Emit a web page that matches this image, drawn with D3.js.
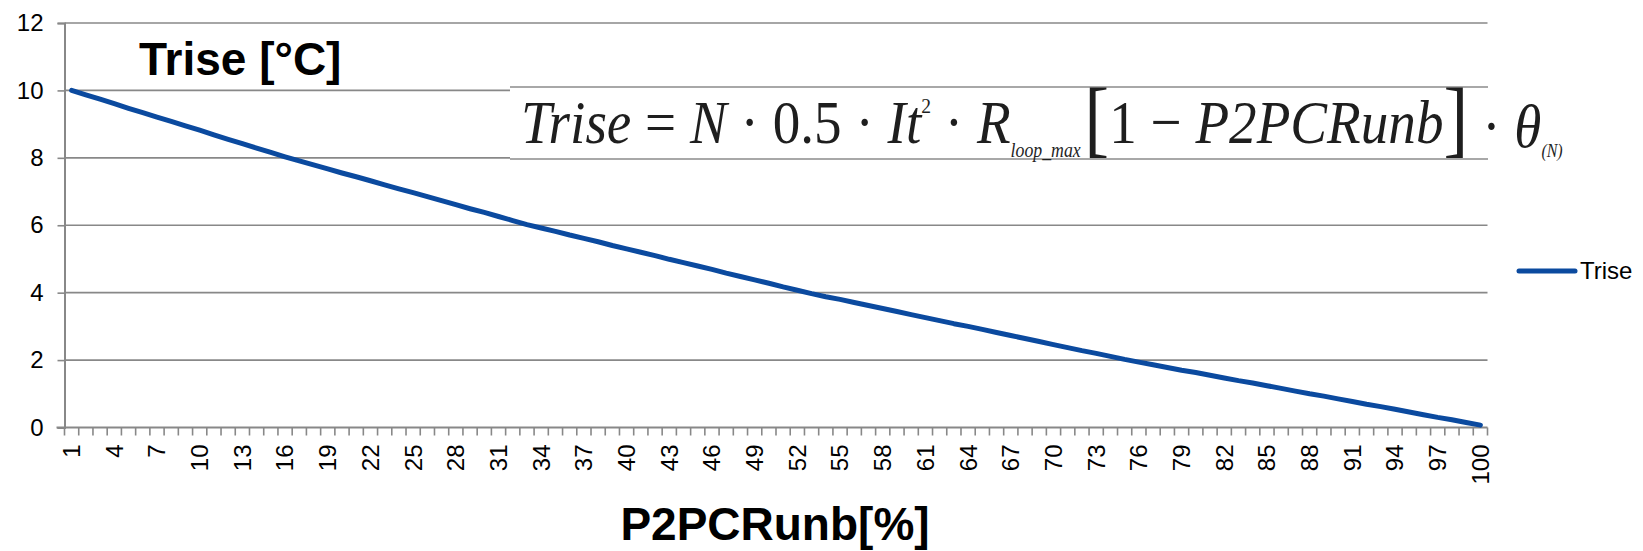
<!DOCTYPE html>
<html>
<head>
<meta charset="utf-8">
<title>Trise</title>
<script src="https://cdn.jsdelivr.net/npm/d3@7"></script>
<style>
  body { margin:0; background:#fff; font-family:"Liberation Sans", Arial, sans-serif; }
  svg text { fill:#000; }
</style>
</head>
<body>
<script>
// P2PCRunb [%] categories on the x axis
var categories = d3.range(1, 101);

// Trise [°C]
var trise = [
  10.00, 9.87, 9.74, 9.61, 9.47, 9.34, 9.21, 9.08, 8.95, 8.82,
  8.68, 8.55, 8.42, 8.29, 8.16, 8.03, 7.91, 7.79, 7.67, 7.55,
  7.44, 7.32, 7.20, 7.08, 6.97, 6.85, 6.73, 6.61, 6.49, 6.38,
  6.26, 6.14, 6.02, 5.92, 5.82, 5.71, 5.61, 5.51, 5.40, 5.30,
  5.20, 5.10, 4.99, 4.89, 4.79, 4.69, 4.58, 4.48, 4.38, 4.28,
  4.17, 4.07, 3.97, 3.88, 3.80, 3.71, 3.62, 3.53, 3.44, 3.35,
  3.26, 3.17, 3.08, 3.00, 2.91, 2.82, 2.73, 2.64, 2.55, 2.46,
  2.37, 2.28, 2.20, 2.11, 2.02, 1.94, 1.86, 1.78, 1.70, 1.63,
  1.55, 1.47, 1.39, 1.32, 1.24, 1.16, 1.08, 1.00, 0.93, 0.85,
  0.77, 0.69, 0.62, 0.54, 0.46, 0.38, 0.30, 0.23, 0.15, 0.07
];

var yTicks = [0, 2, 4, 6, 8, 10, 12];
var xTickLabels = categories.filter(function(c){ return (c - 1) % 3 === 0; });

var seriesName = "Trise",
    yTitle = "Trise [\u00B0C]",
    xTitle = "P2PCRunb[%]";

function chart(){
  var width = 1643,
      height = 551,
      grey = "#888888",
      blue = "#0b4a9f";

  var svg = d3.select("body").append("svg")
      .attr("width", width)
      .attr("height", height);

  var x = d3.scaleBand()
      .domain(categories)
      .range([64.5, 1487.5])
      .padding(0);

  var y = d3.scaleLinear()
      .domain([0, 12])
      .range([427.5, 23]);

  // gridlines
  svg.append("g").selectAll("line")
      .data(yTicks.filter(function(d){ return d > 0; }))
    .enter().append("line")
      .attr("x1", x.range()[0])
      .attr("x2", x.range()[1])
      .attr("y1", function(d){ return y(d); })
      .attr("y2", function(d){ return y(d); })
      .style("stroke", grey)
      .style("stroke-width", 1.6);

  // formula picture, white box over the grid
  var fbox = svg.append("g").attr("class", "formula");
  fbox.append("rect")
      .attr("x", 510).attr("y", 86)
      .attr("width", 1055).attr("height", 74)
      .style("fill", "#fff");
  fbox.selectAll(".fline")
      .data([87, 159])
    .enter().append("line")
      .attr("class", "fline")
      .attr("x1", 510).attr("x2", 1488)
      .attr("y1", function(d){ return d; })
      .attr("y2", function(d){ return d; })
      .style("stroke", "#a8a8a8")
      .style("stroke-width", 2);

  var ftext = fbox.append("text")
      .attr("x", 0)
      .attr("y", 0)
      .style("font-family", "'Liberation Serif', 'Times New Roman', serif")
      .style("font-size", "62px")
      .style("fill", "#1e1e1e");

  function part(t, italic, opts){
    opts = opts || {};
    var s = ftext.append("tspan").text(t)
      .style("font-style", italic ? "italic" : "normal");
    if(opts.size) s.style("font-size", opts.size);
    if(opts.dy) s.attr("dy", opts.dy);
    if(opts.dx) s.attr("dx", opts.dx);
    return s;
  }
  part("Trise", true);
  part(" = ", false);
  part("N", true);
  part(" \u00B7 0.5 \u00B7 ", false);
  part("It", true);
  part("2", false, {size:"22px", dy:-30});
  part(" \u00B7 ", false, {dy:30});
  part("R", true);
  part("loop_max", true, {size:"20px", dy:14});
  part("[", false, {size:"84px", dy:-10, dx:4});
  part("1 \u2212 ", false, {dy:-4});
  part("P2PCRunb", true);
  part("]", false, {size:"84px", dy:4});
  part(" \u00B7 ", false, {dy:0});
  part("\u03B8", true);
  part("(N)", true, {size:"18px", dy:10});

  var bb = ftext.node().getBBox();
  var fitW = 1042;
  ftext.attr("transform", "translate(521,143)scale(" + (fitW / bb.width) + ",1)");

  // y axis
  var yAxis = d3.axisLeft(y)
      .tickValues(yTicks)
      .tickSize(7)
      .tickPadding(14);

  var gy = svg.append("g")
      .attr("transform", "translate(" + x.range()[0] + ",0)")
      .call(yAxis);
  gy.select(".domain").style("stroke", grey).style("stroke-width", 2);
  gy.selectAll(".tick line").style("stroke", grey).style("stroke-width", 1.6);
  gy.selectAll(".tick text")
      .style("font-size", "24px")
      .style("font-family", "'Liberation Sans', Arial, sans-serif")
      .style("fill", "#000");

  // x axis line and tick marks between categories
  var gx = svg.append("g");
  gx.append("line")
      .attr("x1", x.range()[0] - 8)
      .attr("x2", x.range()[1])
      .attr("y1", y(0)).attr("y2", y(0))
      .style("stroke", grey)
      .style("stroke-width", 2);

  var edges = categories.map(function(c){ return x(c); }).concat([x.range()[1]]);
  gx.selectAll(".xtick")
      .data(edges)
    .enter().append("line")
      .attr("class", "xtick")
      .attr("x1", function(d){ return d; })
      .attr("x2", function(d){ return d; })
      .attr("y1", y(0))
      .attr("y2", y(0) + 8)
      .style("stroke", grey)
      .style("stroke-width", 1.6);

  gx.selectAll(".xlabel")
      .data(xTickLabels)
    .enter().append("text")
      .attr("class", "xlabel")
      .attr("transform", function(d){
        return "translate(" + (x(d) + x.bandwidth() / 2) + "," + (y(0) + 17) + ")rotate(-90)";
      })
      .attr("text-anchor", "end")
      .attr("dy", "0.35em")
      .style("font-size", "24px")
      .text(String);

  // series
  var line = d3.line()
      .x(function(d, i){ return x(categories[i]) + x.bandwidth() / 2; })
      .y(function(d){ return y(d); });

  svg.append("path")
      .datum(trise)
      .attr("d", line)
      .style("fill", "none")
      .style("stroke", blue)
      .style("stroke-width", 5)
      .style("stroke-linecap", "round")
      .style("stroke-linejoin", "round");

  // titles
  svg.append("text")
      .attr("x", 139)
      .attr("y", 75)
      .style("font-size", "46px")
      .style("font-weight", "bold")
      .text(yTitle);

  svg.append("text")
      .attr("x", 775)
      .attr("y", 540)
      .attr("text-anchor", "middle")
      .style("font-size", "46px")
      .style("font-weight", "bold")
      .text(xTitle);

  // legend
  var legend = svg.append("g")
      .attr("transform", "translate(1519,271)");
  legend.append("line")
      .attr("x1", 0).attr("x2", 56)
      .style("stroke", blue)
      .style("stroke-width", 5)
      .style("stroke-linecap", "round");
  legend.append("text")
      .attr("x", 61)
      .attr("dy", "0.35em")
      .style("font-size", "24px")
      .text(seriesName);
}

window.onload = chart;
</script>
</body>
</html>
